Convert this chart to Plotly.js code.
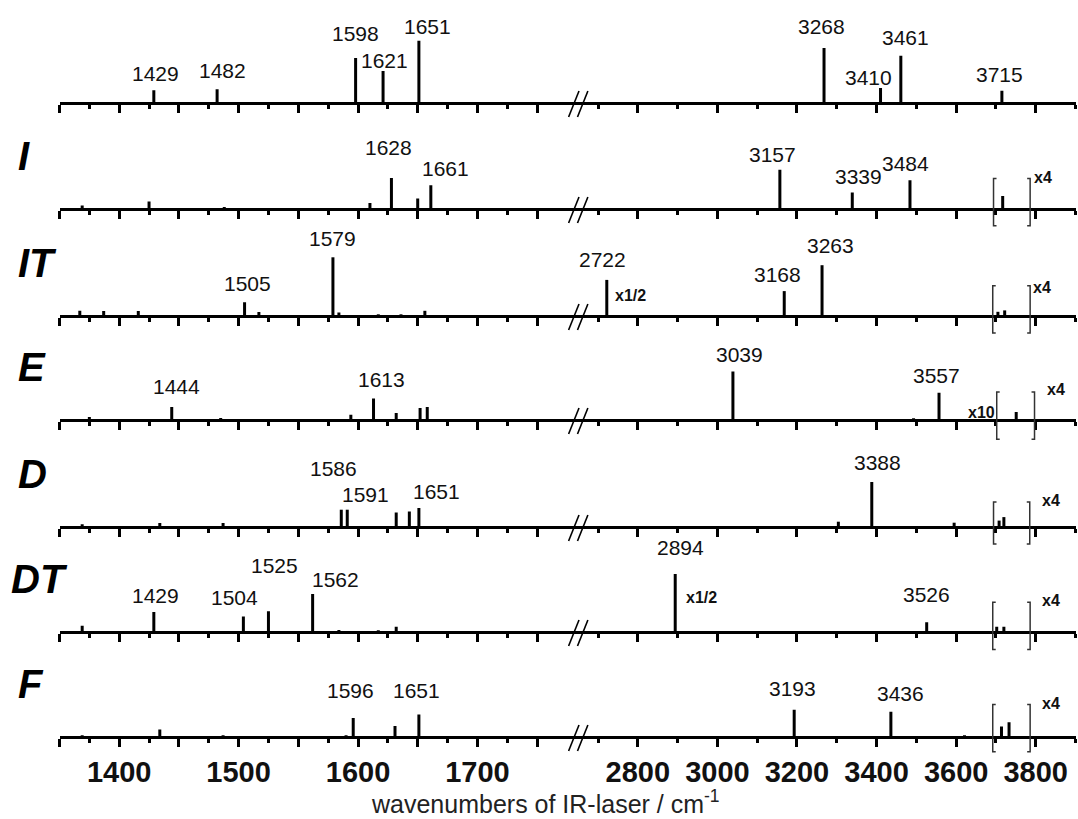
<!DOCTYPE html>
<html><head><meta charset="utf-8">
<script src="https://cdn.plot.ly/plotly-3.0.1.min.js"></script>
<style>html,body{margin:0;padding:0;background:#fff}#chart{width:1078px;height:819px}</style>
</head><body><div id="chart"></div>
<script>
// ================= DATA =================
const panelLabels = ['', 'I', 'IT', 'E', 'D', 'DT', 'F'];

// stick positions (cm-1) and relative intensities
const wnTop  = [1429, 1482, 1598, 1621, 1651, 3268, 3410, 3461, 3715];
const intTop = [12.8, 13.8, 44.9, 32.1, 62.2, 55.0, 15.0, 47.3, 12.3];
const labTop = [1429, 1482, 1598, 1621, 1651, 3268, 3410, 3461, 3715];

const wnI  = [1369, 1425, 1488, 1610, 1628, 1650, 1661, 3157, 3339, 3484, 3717];
const intI = [3.5, 7.6, 2.0, 5.9, 31.0, 10.4, 23.8, 39.3, 16.5, 28.8, 13.0];
const labI = [1628, 1661, 3157, 3339, 3484];

const wnIT  = [1367, 1387, 1416, 1505, 1517, 1579, 1584, 1617, 1636, 1656, 2722, 3168, 3263, 3705, 3722];
const intIT = [5.2, 5.0, 5.0, 13.8, 4.0, 58.7, 3.5, 1.7, 1.7, 5.2, 36.1, 24.9, 50.8, 4.2, 5.6];
const labIT = [1505, 1579, 2722, 3168, 3263];

const wnE  = [1375, 1444, 1485, 1594, 1613, 1632, 1652, 1658, 3039, 3493, 3557, 3751];
const intE = [3.0, 13.1, 2.0, 5.2, 21.4, 6.9, 12.1, 13.1, 48.4, 1.8, 27.3, 8.1];
const labE = [1444, 1613, 3039, 3557];

const wnD  = [1369, 1434, 1487, 1586, 1591, 1632, 1643, 1651, 1656, 3304, 3388, 3595, 3708, 3720];
const intD = [2.8, 4.0, 4.0, 17.3, 17.3, 14.5, 15.5, 19.0, 1.0, 5.3, 45.0, 4.3, 6.4, 9.9];
const labD = [1586, 1591, 1651, 3388];

const wnDT  = [1369, 1429, 1504, 1525, 1562, 1584, 1617, 1632, 2894, 3526, 3702, 3720];
const intDT = [6.2, 20.0, 15.5, 20.7, 38.0, 2.0, 1.7, 5.2, 57.9, 9.8, 5.3, 5.3];
const labDT = [1429, 1504, 1525, 1562, 2894, 3526];

const wnF  = [1369, 1434, 1487, 1590, 1596, 1631, 1651, 1659, 3193, 3436, 3621, 3714, 3733];
const intF = [1.7, 7.6, 1.7, 1.7, 19.0, 11.0, 22.5, 1.0, 27.3, 25.2, 1.8, 10.5, 14.7];
const labF = [1596, 1651, 3193, 3436];

// scaled regions (bracketed, cm-1) and scale-factor notes
const bracketFrom = [null, 3694, 3692, 3702, 3694, 3692, 3692];
const bracketTo   = [null, 3786, 3786, 3797, 3785, 3786, 3786];
const bracketNote = ['', 'x4', 'x4', 'x4', 'x4', 'x4', 'x4'];
const leftNote    = ['', '', '', 'x10', '', '', ''];
const halfNotePeak = [null, null, 2722, null, null, 2894, null];
const halfNoteText = 'x1/2';

// axis ticks
const leftMajor  = [1350, 1400, 1450, 1500, 1550, 1600, 1650, 1700, 1750];
const leftMajorText = [' ', '1400', ' ', '1500', ' ', '1600', ' ', '1700', ' '];
const leftMinor  = [1375, 1425, 1475, 1525, 1575, 1625, 1675, 1725];
const rightMajor = [2800, 3000, 3200, 3400, 3600, 3800];
const rightMajorText = ['2800', '3000', '3200', '3400', '3600', '3800'];
const rightMinor = [2700, 2900, 3100, 3300, 3500, 3700, 3900];
const xTitle = 'wavenumbers of IR-laser / cm<sup>-1</sup>';

// ================= STYLE / LAYOUT =================
const W = 1078, H = 819;
const baselines = [103, 209, 316, 420, 527, 632, 737];     // px from top
const xL0 = 59.5, xSplit = 566, xR1 = 1075.5;
const leftRange  = [1350, 1350 + (xSplit - xL0) / 1.194];
const rightRange = [2700 - (598 - xSplit) / 0.3975, 3900];
const yLo = -24, yHi = 88;
const FONT = 'Liberation Sans, Arial, Helvetica, sans-serif';
const labelFont = {family: FONT, size: 21, color: '#111'};
const noteFont = {family: FONT, size: 16, color: '#111', weight: 'bold'};
const LABEL_CORR = -5;

// label offsets per panel: wn -> [dx px, gap px above stick]
const labelOff = [
  {1429:[2,9], 1482:[5,11], 1598:[0,17], 1621:[1,2.5], 1651:[9,7], 3268:[-3,13.7], 3410:[-12,3.5], 3461:[5,10.8], 3715:[-2,9]},
  {1628:[-3,23], 1661:[15,9.7], 3157:[-7.5,7.4], 3339:[6.4,8.4], 3484:[-4.6,9.1]},
  {1505:[3,11.4], 1579:[0,11.4], 2722:[-4,12.8], 3168:[-7,9.3], 3263:[8,12.2]},
  {1444:[4.5,12.8], 1613:[8.3,11.4], 3039:[7,9.7], 3557:[-2.7,9.7]},
  {1586:[-8,33.5], 1591:[18,7.5], 1651:[17.4,9.3], 3388:[5.5,12.4]},
  {1429:[2,9.3], 1504:[-9,12], 1525:[6,38], 1562:[22.5,6.9], 2894:[5,19.3], 3526:[0,20]},
  {1596:[-2.5,20], 1651:[-2.6,16.6], 3193:[-2,13.3], 3436:[9.5,11.2]}
];
const bracketTop = [0, 30.5, 30.2, 28, 25, 29.8, 32.6];
const bracketBot = [0, -16.8, -17, -19.3, -17, -17.5, -14.7];
const bracketNoteShift = [0, 2.5, 2, 11, 11, 10.4, 10.4];
const bracketNoteY = [0, 32, 29, 30.5, 27, 31.5, 33.7];
const halfNoteShift = [0, 0, 7.5, 0, 0, 9.3, 0];
const halfNoteY = [0, 0, 21, 0, 0, 35, 0];
const panelLabelX = [0, 17, 17, 17, 17, 10, 17];

const panelData = [
  [wnTop, intTop, labTop], [wnI, intI, labI], [wnIT, intIT, labIT], [wnE, intE, labE],
  [wnD, intD, labD], [wnDT, intDT, labDT], [wnF, intF, labF]
];

const xName = n => n === 1 ? 'xaxis' : 'xaxis' + n;
const xRef  = n => n === 1 ? 'x' : 'x' + n;
const yName = n => n === 1 ? 'yaxis' : 'yaxis' + n;
const yRef  = n => n === 1 ? 'y' : 'y' + n;

const traces = [], annotations = [], shapes = [];
const layout = {
  width: W, height: H, margin: {l: 0, r: 0, t: 0, b: 0},
  paper_bgcolor: '#fff', plot_bgcolor: 'rgba(0,0,0,0)', showlegend: false,
  font: {family: FONT, color: '#000'}
};

panelData.forEach(([wn, inten, labs], i) => {
  const nL = 2 * i + 1, nR = 2 * i + 2, nY = i + 1;
  const b = baselines[i];
  const pos = (H - b) / H;
  const isBottom = i === panelData.length - 1;
  const common = {
    anchor: 'free', position: pos, showline: true, linewidth: 3, linecolor: '#000',
    ticks: 'outside', ticklen: 8, tickwidth: 3, tickcolor: '#000',
    showgrid: false, zeroline: false, fixedrange: true, tickmode: 'array',
    showticklabels: isBottom,
    tickfont: {family: FONT, size: 29, color: '#111', weight: 'bold'}
  };
  layout[xName(nL)] = Object.assign({}, common, {
    domain: [xL0 / W, xSplit / W], range: leftRange,
    tickvals: leftMajor, ticktext: leftMajorText,
    minor: {tickmode: 'array', tickvals: leftMinor, ticks: 'outside', ticklen: 4, tickwidth: 3, tickcolor: '#000', showgrid: false}
  });
  layout[xName(nR)] = Object.assign({}, common, {
    domain: [xSplit / W, xR1 / W], range: rightRange,
    tickvals: rightMajor, ticktext: rightMajorText,
    minor: {tickmode: 'array', tickvals: rightMinor, ticks: 'outside', ticklen: 4, tickwidth: 3, tickcolor: '#000', showgrid: false}
  });
  layout[yName(nY)] = {
    domain: [(H - b + yLo) / H, (H - b + yHi) / H], range: [yLo, yHi],
    visible: false, fixedrange: true, anchor: xRef(nL)
  };

  // sticks
  [[nL, w => w < 2000], [nR, w => w >= 2000]].forEach(([n, test]) => {
    const xs = [], ys = [];
    wn.forEach((w, k) => { if (test(w)) { xs.push(w, w, null); ys.push(0, inten[k], null); } });
    traces.push({x: xs, y: ys, xaxis: xRef(n), yaxis: yRef(nY), mode: 'lines',
      line: {color: '#000', width: 3}, hoverinfo: 'skip', cliponaxis: false});
  });

  // peak labels
  labs.forEach(w => {
    const k = wn.indexOf(w);
    const off = labelOff[i][w] || [0, 8];
    annotations.push({
      x: w, y: inten[k] + off[1], xref: xRef(w < 2000 ? nL : nR), yref: yRef(nY),
      text: String(w), showarrow: false, xanchor: 'center', yanchor: 'bottom',
      xshift: off[0], yshift: LABEL_CORR, font: labelFont, borderpad: 0
    });
  });

  // axis break marks //
  [[2.6, 13], [11.5, 21.9]].forEach(([a, c]) => {
    shapes.push({type: 'line', xref: xRef(nR), yref: yRef(nY), xsizemode: 'pixel',
      xanchor: rightRange[0], x0: a, x1: c, y0: -14, y1: 12,
      line: {color: '#000', width: 1.6}});
  });

  // panel label
  if (panelLabels[i]) {
    annotations.push({
      x: panelLabelX[i] / W, xref: 'paper', y: 39, yref: yRef(nY),
      text: '<b><i>' + panelLabels[i] + '</i></b>', showarrow: false,
      xanchor: 'left', yanchor: 'bottom', yshift: -9, borderpad: 0,
      font: {family: FONT, size: 40, color: '#000'}
    });
  }

  // bracketed scaled region
  if (bracketFrom[i] !== null) {
    const a = bracketFrom[i], c = bracketTo[i], t = bracketTop[i], bt = bracketBot[i], tail = 7.5;
    shapes.push({type: 'path', xref: xRef(nR), yref: yRef(nY),
      path: `M ${a + tail},${t} L ${a},${t} L ${a},${bt} L ${a + tail},${bt}`,
      line: {color: '#333', width: 1.5}});
    shapes.push({type: 'path', xref: xRef(nR), yref: yRef(nY),
      path: `M ${c - tail},${t} L ${c},${t} L ${c},${bt} L ${c - tail},${bt}`,
      line: {color: '#333', width: 1.5}});
    annotations.push({x: c, y: bracketNoteY[i], xref: xRef(nR), yref: yRef(nY),
      text: bracketNote[i], showarrow: false, xanchor: 'left', yanchor: 'middle',
      xshift: bracketNoteShift[i], font: noteFont, borderpad: 0});
    if (leftNote[i]) {
      annotations.push({x: a, y: 8, xref: xRef(nR), yref: yRef(nY),
        text: leftNote[i], showarrow: false, xanchor: 'right', yanchor: 'middle',
        xshift: -1, font: noteFont, borderpad: 0});
    }
  }
  if (halfNotePeak[i] !== null) {
    annotations.push({x: halfNotePeak[i], y: halfNoteY[i], xref: xRef(nR), yref: yRef(nY),
      text: halfNoteText, showarrow: false, xanchor: 'left', yanchor: 'middle',
      xshift: halfNoteShift[i], font: noteFont, borderpad: 0});
  }
});

annotations.push({
  x: 546 / W, y: 0, xref: 'paper', yref: 'paper', yanchor: 'bottom', xanchor: 'center',
  yshift: -1, text: xTitle, showarrow: false, font: {family: FONT, size: 25, color: '#222'}
});

layout.annotations = annotations;
layout.shapes = shapes;
Plotly.newPlot('chart', traces, layout, {displayModeBar: false, staticPlot: true});
</script></body></html>
